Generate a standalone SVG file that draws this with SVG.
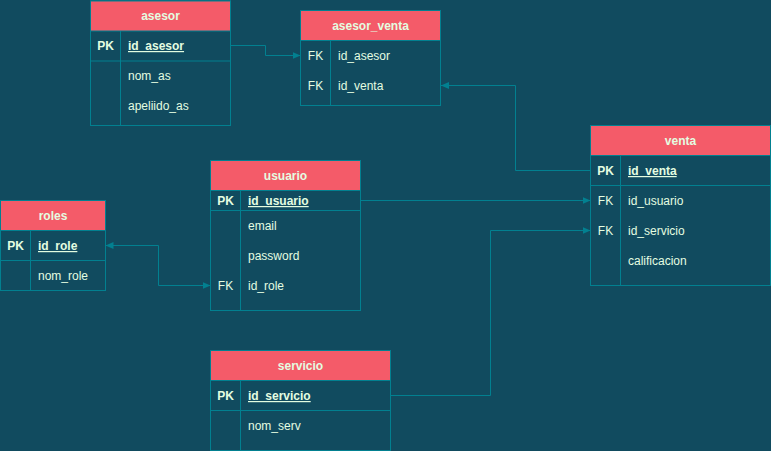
<svg xmlns="http://www.w3.org/2000/svg" width="771" height="451" viewBox="0 0 771 451">
<style>
.box{fill:#114B5F;stroke:#028090;stroke-width:1}
.hdr{fill:#F45B69;stroke:#028090;stroke-width:1}
.ln{stroke:#028090;stroke-width:1;fill:none}
text{font-family:"Liberation Sans",Arial,sans-serif;font-size:12px;fill:#E4FDE1}
.t{font-weight:bold;text-anchor:middle}
.k{text-anchor:middle}
.kb{text-anchor:middle;font-weight:bold}
.pk{font-weight:bold;text-decoration:underline}
.con{stroke:#028090;stroke-width:1;fill:none}
</style>
<defs>
<marker id="arr" markerUnits="userSpaceOnUse" markerWidth="10" markerHeight="10" viewBox="0 0 10 10" refX="8" refY="5" orient="auto-start-reverse">
<path d="M0,1.5 L8,5 L0,8.5 Z" fill="#028090"/>
</marker>
</defs>
<rect x="0" y="0" width="771" height="451" fill="#114B5F"/>

<g id="connectors">
<path class="con" d="M230.5,45.5 H265.5 V55.5 H300.5" marker-end="url(#arr)"/>
<path class="con" d="M590.5,170.5 H515.5 V85.5 H441" marker-end="url(#arr)"/>
<path class="con" d="M105.5,245.5 H158.5 V285.5 H210.5" marker-start="url(#arr)" marker-end="url(#arr)"/>
<path class="con" d="M360.5,200.5 H590.5" marker-end="url(#arr)"/>
<path class="con" d="M390.5,395.5 H490.5 V230.5 H590.5" marker-end="url(#arr)"/>
</g>

<g id="asesor">
<rect class="box" x="90.5" y="1" width="140" height="124.5"/>
<rect class="hdr" x="90.5" y="1" width="140" height="30"/>
<line class="ln" x1="120.5" y1="31" x2="120.5" y2="125.5"/>
<line class="ln" x1="90.5" y1="61" x2="230.5" y2="61"/>
<text class="t" x="160.5" y="20">asesor</text>
<text class="kb" x="105.5" y="50">PK</text>
<text class="pk" x="128" y="50">id_asesor</text>
<text x="128" y="80">nom_as</text>
<text x="128" y="110">apeliido_as</text>
</g>

<g id="asesor_venta">
<rect class="box" x="300.5" y="10.5" width="140" height="95"/>
<rect class="hdr" x="300.5" y="10.5" width="140" height="30"/>
<line class="ln" x1="330.5" y1="40.5" x2="330.5" y2="105.5"/>
<text class="t" x="370.5" y="29.5">asesor_venta</text>
<text class="k" x="315.5" y="59.5">FK</text>
<text x="338" y="59.5">id_asesor</text>
<text class="k" x="315.5" y="90">FK</text>
<text x="338" y="90">id_venta</text>
</g>

<g id="roles">
<rect class="box" x="0.5" y="200.5" width="105" height="90"/>
<rect class="hdr" x="0.5" y="200.5" width="105" height="30"/>
<line class="ln" x1="30.5" y1="230.5" x2="30.5" y2="290.5"/>
<line class="ln" x1="0.5" y1="260.5" x2="105.5" y2="260.5"/>
<text class="t" x="53" y="219.5">roles</text>
<text class="kb" x="15.5" y="250">PK</text>
<text class="pk" x="38" y="250">id_role</text>
<text x="38" y="280">nom_role</text>
</g>

<g id="usuario">
<rect class="box" x="210.5" y="160.5" width="150" height="150"/>
<rect class="hdr" x="210.5" y="160.5" width="150" height="30"/>
<line class="ln" x1="240.5" y1="190.5" x2="240.5" y2="310.5"/>
<line class="ln" x1="210.5" y1="210.5" x2="360.5" y2="210.5"/>
<text class="t" x="285.5" y="179.5">usuario</text>
<text class="kb" x="225.5" y="205">PK</text>
<text class="pk" x="248" y="205">id_usuario</text>
<text x="248" y="230">email</text>
<text x="248" y="260">password</text>
<text class="k" x="225.5" y="290">FK</text>
<text x="248" y="290">id_role</text>
</g>

<g id="venta">
<rect class="box" x="590.5" y="125.5" width="180" height="160"/>
<rect class="hdr" x="590.5" y="125.5" width="180" height="30"/>
<line class="ln" x1="620.5" y1="155.5" x2="620.5" y2="285.5"/>
<line class="ln" x1="590.5" y1="185.5" x2="770.5" y2="185.5"/>
<text class="t" x="680.5" y="144.5">venta</text>
<text class="kb" x="605.5" y="175">PK</text>
<text class="pk" x="628" y="175">id_venta</text>
<text class="k" x="605.5" y="205">FK</text>
<text x="628" y="205">id_usuario</text>
<text class="k" x="605.5" y="235">FK</text>
<text x="628" y="235">id_servicio</text>
<text x="628" y="265">calificacion</text>
</g>

<g id="servicio">
<rect class="box" x="210.5" y="350.5" width="180" height="100"/>
<rect class="hdr" x="210.5" y="350.5" width="180" height="30"/>
<line class="ln" x1="240.5" y1="380.5" x2="240.5" y2="450.5"/>
<line class="ln" x1="210.5" y1="410.5" x2="390.5" y2="410.5"/>
<text class="t" x="300.5" y="369.5">servicio</text>
<text class="kb" x="225.5" y="400">PK</text>
<text class="pk" x="248" y="400">id_servicio</text>
<text x="248" y="430">nom_serv</text>
</g>
</svg>
